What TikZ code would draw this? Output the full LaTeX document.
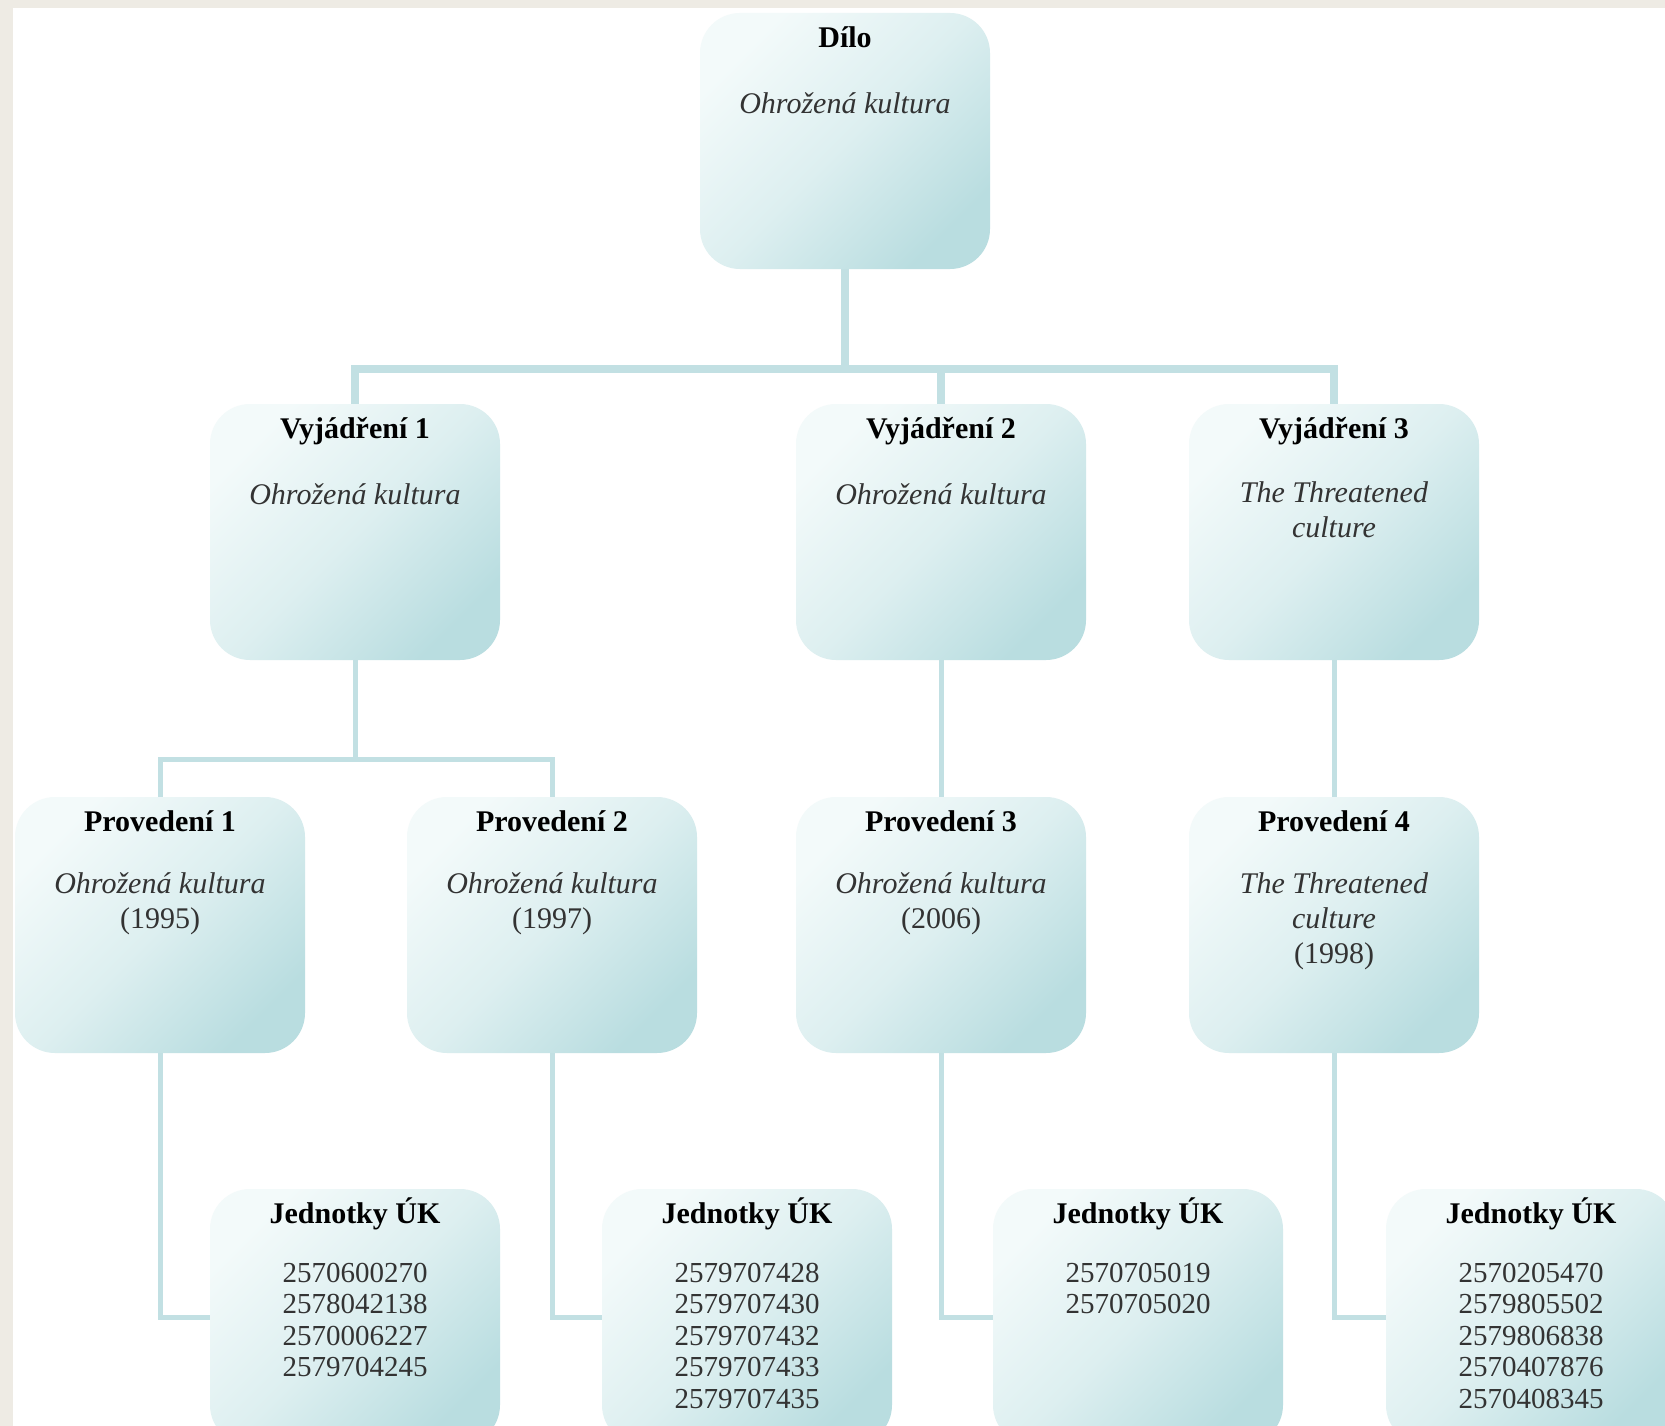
\documentclass[tikz,border=0pt]{standalone}
\usepackage{fontspec}
\setmainfont{Liberation Serif}
\usetikzlibrary{backgrounds}

\definecolor{okraj}{HTML}{EEEBE4}
\definecolor{boxsvetla}{HTML}{F3FAFA}
\definecolor{boxstred}{HTML}{DDEFF0}
\definecolor{boxtmava}{HTML}{B9DDE0}
\definecolor{spoj}{HTML}{C2E0E3}
\definecolor{popis}{HTML}{333333}

\begin{document}
\begin{tikzpicture}[x=1pt, y=-1pt,
    box/.style={rectangle, rounded corners=40pt, minimum width=290pt, minimum height=256pt,
      inner sep=0pt, top color=boxsvetla, bottom color=boxtmava, middle color=boxstred, shading angle=45},
    nadpis/.style={font=\fontsize{30}{35}\selectfont\bfseries, inner sep=0pt, anchor=base},
    nazev/.style={font=\fontsize{30}{35}\selectfont, text=popis, align=center, inner sep=0pt, anchor=north},
    cisla/.style={font=\fontsize{29}{31.5}\selectfont, text=popis, align=center, inner sep=0pt, anchor=north},
    spojhore/.style={draw=spoj, line width=8pt},
    spojdole/.style={draw=spoj, line width=5pt}]
  \useasboundingbox (0,0) rectangle (1665,1426);
  \clip (0,0) rectangle (1665,1426);

  % Dilo
  \node[box] (dilo) at (845,141) {};
  \node[nadpis] (dilo-t) at ([yshift=-35pt]dilo.north) {Dílo};
  \node[nazev] (dilo-n) at ([yshift=-80pt]dilo.north) {\textit{Ohrožená kultura}};

  % Vyjadreni
  \node[box] (v1) at (355,532) {};
  \node[nadpis] (v1-t) at ([yshift=-35pt]v1.north) {Vyjádření 1};
  \node[nazev] (v1-n) at ([yshift=-80pt]v1.north) {\textit{Ohrožená kultura}};

  \node[box] (v2) at (941,532) {};
  \node[nadpis] (v2-t) at ([yshift=-35pt]v2.north) {Vyjádření 2};
  \node[nazev] (v2-n) at ([yshift=-80pt]v2.north) {\textit{Ohrožená kultura}};

  \node[box] (v3) at (1334,532) {};
  \node[nadpis] (v3-t) at ([yshift=-35pt]v3.north) {Vyjádření 3};
  \node[nazev] (v3-n) at ([yshift=-78pt]v3.north) {\textit{The Threatened}\\\textit{culture}};

  % Provedeni
  \node[box] (p1) at (160,925) {};
  \node[nadpis] (p1-t) at ([yshift=-35pt]p1.north) {Provedení 1};
  \node[nazev] (p1-n) at ([yshift=-76pt]p1.north) {\textit{Ohrožená kultura}\\(1995)};

  \node[box] (p2) at (552,925) {};
  \node[nadpis] (p2-t) at ([yshift=-35pt]p2.north) {Provedení 2};
  \node[nazev] (p2-n) at ([yshift=-76pt]p2.north) {\textit{Ohrožená kultura}\\(1997)};

  \node[box] (p3) at (941,925) {};
  \node[nadpis] (p3-t) at ([yshift=-35pt]p3.north) {Provedení 3};
  \node[nazev] (p3-n) at ([yshift=-76pt]p3.north) {\textit{Ohrožená kultura}\\(2006)};

  \node[box] (p4) at (1334,925) {};
  \node[nadpis] (p4-t) at ([yshift=-35pt]p4.north) {Provedení 4};
  \node[nazev] (p4-n) at ([yshift=-76pt]p4.north) {\textit{The Threatened}\\\textit{culture}\\(1998)};

  % Jednotky
  \node[box] (u1) at (355,1317) {};
  \node[nadpis] (u1-t) at ([yshift=-35pt]u1.north) {Jednotky ÚK};
  \node[cisla] (u1-n) at ([yshift=-74pt]u1.north) {2570600270\\2578042138\\2570006227\\2579704245};

  \node[box] (u2) at (747,1317) {};
  \node[nadpis] (u2-t) at ([yshift=-35pt]u2.north) {Jednotky ÚK};
  \node[cisla] (u2-n) at ([yshift=-74pt]u2.north) {2579707428\\2579707430\\2579707432\\2579707433\\2579707435};

  \node[box] (u3) at (1138,1317) {};
  \node[nadpis] (u3-t) at ([yshift=-35pt]u3.north) {Jednotky ÚK};
  \node[cisla] (u3-n) at ([yshift=-74pt]u3.north) {2570705019\\2570705020};

  \node[box] (u4) at (1531,1317) {};
  \node[nadpis] (u4-t) at ([yshift=-35pt]u4.north) {Jednotky ÚK};
  \node[cisla] (u4-n) at ([yshift=-74pt]u4.north) {2570205470\\2579805502\\2579806838\\2570407876\\2570408345};

  % Spoje
  \coordinate (r0) at (845,369);
  \coordinate (r1) at (355,759);
  \begin{scope}[on background layer]
    \fill[okraj] (0,0) rectangle (1665,1426);
    \fill[white] (13,8) rectangle (1665,1426);
    \draw[spojhore] (dilo.south) -- (r0) -| (v1.north);
    \draw[spojhore] (r0) -| (v2.north);
    \draw[spojhore] (r0) -| (v3.north);
    \draw[spojdole] (v1.south) -- (r1) -| (p1.north);
    \draw[spojdole] (r1) -| (p2.north);
    \draw[spojdole] (v2) -- (p3);
    \draw[spojdole] (v3) -- (p4);
    \draw[spojdole] (p1.south) |- (u1.west);
    \draw[spojdole] (p2.south) |- (u2.west);
    \draw[spojdole] (p3.south) |- (u3.west);
    \draw[spojdole] (p4.south) |- (u4.west);
  \end{scope}
\end{tikzpicture}
\end{document}
